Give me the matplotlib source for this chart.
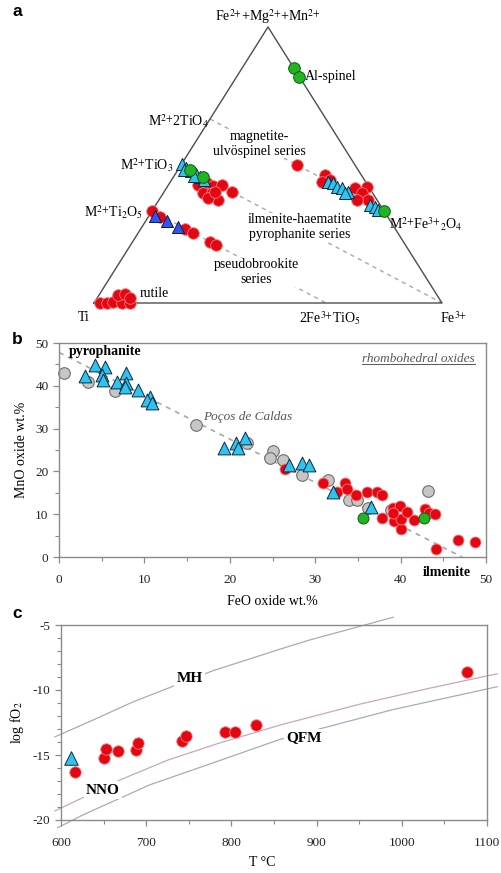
import numpy as np
import matplotlib
matplotlib.use('Agg')
import matplotlib.pyplot as plt
from matplotlib.lines import Line2D
from matplotlib.ticker import MultipleLocator

plt.rcParams['font.family'] = ['Liberation Serif', 'DejaVu Serif']
plt.rcParams['mathtext.fontset'] = 'stix'
plt.rcParams['axes.unicode_minus'] = False

# ====================== a: Ti - M2+ - Fe3+ (molar fractions, Ti = 1 - M2 - Fe3) ======================
a_red_m2 = [0.428, 0.435, 0.424, 0.428, 0.402, 0.399, 0.399, 0.373, 0.380, 0.402,
            0.500,
            0.464, 0.446, 0.438, 0.417, 0.420, 0.399, 0.373, 0.373,
            0.333, 0.312, 0.268, 0.254, 0.221, 0.210,
            0.0, 0.0, 0.004, 0.0, 0.0, 0.029, 0.033, 0.018]
a_red_fe3 = [0.085, 0.107, 0.130, 0.154, 0.196, 0.114, 0.140, 0.170, 0.138, 0.147,
             0.333,
             0.432, 0.455, 0.436, 0.542, 0.574, 0.571, 0.601, 0.569,
             0.0, 0.034, 0.127, 0.157, 0.223, 0.246,
             0.017, 0.037, 0.053, 0.080, 0.103, 0.055, 0.073, 0.094]
a_cyan_m2 = [0.504, 0.489, 0.478, 0.467, 0.457, 0.446, 0.482, 0.460,
             0.438, 0.435, 0.420, 0.417, 0.402, 0.399, 0.355, 0.348, 0.337]
a_cyan_fe3 = [0.0, 0.020, 0.040, 0.060, 0.076, 0.093, 0.018, 0.057,
              0.453, 0.469, 0.488, 0.504, 0.529, 0.522, 0.616, 0.633, 0.648]
a_blue_m2 = [0.315, 0.297, 0.275]
a_blue_fe3 = [0.018, 0.061, 0.104]
a_green_m2 = [0.85, 0.82, 0.482, 0.457, 0.335]
a_green_fe3 = [0.15, 0.18, 0.035, 0.085, 0.665]
# end members of the series (m2, fe3)
series_ends = [((2/3, 0.0), (1/3, 2/3)),   # magnetite-ulvospinel
               ((0.5, 0.0), (0.0, 1.0)),   # ilmenite-haematite
               ((1/3, 0.0), (0.0, 2/3))]   # pseudobrookite

# ====================== b: FeO vs MnO ======================
b_gray_feo = [0.6, 3.4, 6.6, 16.1, 22.0, 25.1, 24.7, 26.2, 28.4, 31.5, 33.9, 34.9, 36.2, 38.9, 43.2]
b_gray_mno = [42.9, 41.0, 38.8, 30.8, 26.6, 24.8, 23.2, 22.7, 19.2, 18.0, 13.3, 13.3, 11.4, 11.0, 15.5]
b_cyan_feo = [4.2, 5.4, 3.1, 5.0, 5.2, 7.9, 6.8, 7.9, 7.7, 9.2, 10.7, 10.3, 10.9,
              19.3, 20.7, 21.8, 21.0, 26.9, 28.4, 29.3, 32.1, 36.5]
b_cyan_mno = [44.9, 44.3, 42.3, 42.5, 41.4, 42.9, 41.0, 40.6, 39.8, 39.0, 37.5, 36.7, 35.9,
              25.4, 26.6, 27.7, 25.4, 21.5, 21.9, 21.5, 15.3, 11.6]
b_red_feo = [26.5, 30.9, 32.6, 33.5, 33.7, 34.8, 36.1, 37.2, 37.8, 37.8, 39.1, 39.9,
             39.2, 40.0, 40.1, 40.8, 41.6, 42.9, 43.3, 44.0, 44.1, 46.7, 48.7, 39.1]
b_red_mno = [20.5, 17.4, 15.3, 17.4, 15.8, 14.5, 15.3, 15.3, 14.5, 9.0, 11.4, 11.9,
             8.3, 6.5, 8.8, 10.4, 8.6, 11.2, 10.2, 10.0, 1.8, 4.0, 3.6, 10.2]
b_green_feo = [35.6, 42.7]
b_green_mno = [9.2, 9.0]
trend_feo = [0.0, 47.2]
trend_mno = [47.8, 0.0]

# ====================== c: T vs log fO2 ======================
c_red_t = [616, 650, 653, 667, 688, 690, 742, 747, 793, 804, 829, 1077]
c_red_fo2 = [-16.3, -15.25, -14.55, -14.7, -14.6, -14.05, -13.9, -13.5, -13.2, -13.2, -12.7, -8.6]
c_tri_t = [612]
c_tri_fo2 = [-15.2]
mh_t = [593, 638, 685, 732, 779, 822, 860, 892, 951, 990]
mh_fo2 = [-13.6, -12.3, -10.9, -9.7, -8.5, -7.6, -6.8, -6.15, -5.1, -4.4]
nno_t = [593, 625, 670, 725, 785, 857, 950, 1030, 1112]
nno_fo2 = [-19.3, -18.3, -16.9, -15.4, -14.1, -12.7, -11.1, -9.9, -8.75]
qfm_t = [596, 626, 704, 783, 857, 906, 990, 1112]
qfm_fo2 = [-20.6, -19.6, -17.3, -15.5, -13.8, -12.95, -11.5, -9.75]

RED = dict(c='#e30613', edgecolors='#ff7a7a', linewidths=0.6)
CYAN = dict(c='#2ec4f0', edgecolors='#0d2a40', linewidths=0.7)
BLUE = dict(c='#3355ee', edgecolors='#0a1a50', linewidths=0.7)
GREEN = dict(c='#22b422', edgecolors='#0b5e0b', linewidths=0.7)
GRAY = dict(c='#c6c6c6', edgecolors='#6e6e6e', linewidths=0.8)
SPINE = '#8a8a8a'
FS = 10
wbox = dict(facecolor='white', edgecolor='none', pad=0.5)
P2 = r'$^{2{+}}$'
P3 = r'$^{3{+}}$'


def tern(m2, fe3):
    m2 = np.asarray(m2, dtype=float)
    fe3 = np.asarray(fe3, dtype=float)
    return fe3 + m2 / 2, m2


fig = plt.figure(figsize=(5.01, 8.73), dpi=100)

# ---------------- a ----------------
ax = fig.add_axes([94/501, 1 - 303/873, 348/501, 276/873])
ax.set_xlim(0, 1)
ax.set_ylim(0, 1)
ax.axis('off')
for (p, q) in series_ends:
    x, y = tern([p[0], q[0]], [p[1], q[1]])
    ax.plot(x, y, color='#a8a8a8', lw=1, ls=(0, (3, 3)), clip_on=False)
x, y = tern([0, 0, 1, 0], [0, 1, 0, 0])
ax.plot(x, y, color='#4d4d4d', lw=1, clip_on=False)

ax.scatter(*tern(a_red_m2, a_red_fe3), s=70, clip_on=False, zorder=3, **RED)
ax.scatter(*tern(a_cyan_m2, a_cyan_fe3), s=75, marker='^', clip_on=False, zorder=4, **CYAN)
ax.scatter(*tern(a_blue_m2, a_blue_fe3), s=75, marker='^', clip_on=False, zorder=4, **BLUE)
ax.scatter(*tern(a_green_m2, a_green_fe3), s=70, clip_on=False, zorder=5, **GREEN)

ax.text(0.5, 1.036, 'Fe' + P2 + '+Mg' + P2 + '+Mn' + P2, fontsize=FS, ha='center', va='center')
ax.text(0.606, 0.822, 'Al-spinel', fontsize=FS, ha='left', va='center')
ax.text(0.330, 0.659, 'M' + P2 + r'2TiO$_4$', fontsize=FS, ha='right', va='center')
ax.text(0.474, 0.576, 'magnetite-\nulvöspinel series', fontsize=FS, ha='center', va='center',
        linespacing=1.15, bbox=wbox, zorder=2)
ax.text(0.227, 0.5, 'M' + P2 + r'TiO$_3$', fontsize=FS, ha='right', va='center')
ax.text(0.141, 0.33, 'M' + P2 + r'Ti$_2$O$_5$', fontsize=FS, ha='right', va='center')
ax.text(0.592, 0.275, 'ilmenite-haematite\npyrophanite series', fontsize=FS, ha='center',
        va='center', linespacing=1.15, bbox=wbox, zorder=2)
ax.text(0.466, 0.112, 'pseudobrookite\nseries', fontsize=FS, ha='center', va='center',
        linespacing=1.15, bbox=wbox, zorder=2)
ax.text(0.132, 0.036, 'rutile', fontsize=FS, ha='left', va='center')
ax.text(0.848, 0.286, 'M' + P2 + r'Fe$^{3{+}}{}_2$O$_4$', fontsize=FS, ha='left', va='center')
ax.text(-0.029, -0.054, 'Ti', fontsize=FS, ha='center', va='center')
ax.text(0.678, -0.054, '2Fe' + P3 + r'TiO$_5$', fontsize=FS, ha='center', va='center')
ax.text(1.032, -0.054, 'Fe' + P3, fontsize=FS, ha='center', va='center')


def style_axes(ax):
    for s in ax.spines.values():
        s.set_color(SPINE)
        s.set_linewidth(1)
    ax.tick_params(which='both', direction='out', colors=SPINE, labelcolor='#222222',
                   labelsize=9.5, top=False, right=False)
    ax.tick_params(which='major', length=4.5, width=0.9)
    ax.tick_params(which='minor', length=3, width=0.8)
    ax.tick_params(axis='x', which='both', pad=8)
    ax.tick_params(axis='y', which='both', pad=3)


# ---------------- b ----------------
ax = fig.add_axes([59/501, 1 - 557/873, 427/501, 214/873])
ax.set_xlim(0, 50)
ax.set_ylim(0, 50)
ax.xaxis.set_major_locator(MultipleLocator(10))
ax.xaxis.set_minor_locator(MultipleLocator(5))
ax.yaxis.set_major_locator(MultipleLocator(10))
ax.yaxis.set_minor_locator(MultipleLocator(5))
style_axes(ax)
ax.plot(trend_feo, trend_mno, color='#a8a8a8', lw=1.2, ls=(0, (3, 3)), zorder=1)
ax.scatter(b_gray_feo, b_gray_mno, s=70, clip_on=False, zorder=2, **GRAY)
ax.scatter(b_red_feo, b_red_mno, s=62, clip_on=False, zorder=3, **RED)
ax.scatter(b_cyan_feo, b_cyan_mno, s=85, marker='^', clip_on=False, zorder=4, **CYAN)
ax.scatter(b_green_feo, b_green_mno, s=62, clip_on=False, zorder=5, **GREEN)
ax.text(1.2, 47.9, 'pyrophanite', fontsize=FS, fontweight='bold', ha='left', va='center')
ax.text(16.9, 32.7, 'Poços de Caldas', fontsize=9.5, style='italic', color='#555555',
        ha='left', va='center')
ax.text(45.4, -3.6, 'ilmenite', fontsize=FS, fontweight='bold', ha='center', va='center',
        clip_on=False)
rh = ax.text(0.974, 0.925, 'rhombohedral oxides', fontsize=9.5, style='italic',
             color='#555555', ha='right', va='center', transform=ax.transAxes)
ax.set_xlabel('FeO oxide wt.%', fontsize=FS, va='center')
ax.xaxis.set_label_coords(0.5, -0.21)
ax.set_ylabel('MnO oxide wt.%', fontsize=FS, va='center')
ax.yaxis.set_label_coords(-0.087, 0.5)

# ---------------- c ----------------
ax = fig.add_axes([61/501, 1 - 820/873, 426/501, 195/873])
ax.set_xlim(600, 1100)
ax.set_ylim(-20, -5)
ax.xaxis.set_major_locator(MultipleLocator(100))
ax.xaxis.set_minor_locator(MultipleLocator(50))
ax.yaxis.set_major_locator(MultipleLocator(5))
ax.yaxis.set_minor_locator(MultipleLocator(1))
style_axes(ax)
ax.plot(mh_t, mh_fo2, color='#a6abba', lw=0.9, clip_on=False, zorder=1)
ax.plot(nno_t, nno_fo2, color='#c4a9bb', lw=0.9, clip_on=False, zorder=1)
ax.plot(qfm_t, qfm_fo2, color='#a6abba', lw=0.9, clip_on=False, zorder=1)
ax.text(751, -9.1, 'MH', fontsize=11, fontweight='bold', ha='center', va='center',
        bbox=dict(facecolor='white', edgecolor='none', pad=1.5), zorder=2)
ax.text(649, -17.7, 'NNO', fontsize=11, fontweight='bold', ha='center', va='center',
        bbox=dict(facecolor='white', edgecolor='none', pad=1.5), zorder=2)
ax.text(885, -13.7, 'QFM', fontsize=11, fontweight='bold', ha='center', va='center',
        bbox=dict(facecolor='white', edgecolor='none', pad=1.5), zorder=2)
ax.scatter(c_red_t, c_red_fo2, s=68, clip_on=False, zorder=3, **RED)
ax.scatter(c_tri_t, c_tri_fo2, s=95, marker='^', clip_on=False, zorder=4, **CYAN)
ax.set_xlabel('T °C', fontsize=FS, va='center')
ax.xaxis.set_label_coords(0.472, -0.22)
ax.set_ylabel(r'log fO$_2$', fontsize=FS, va='center')
ax.yaxis.set_label_coords(-0.103, 0.5)

# panel letters
for lab, yy in [('a', 12), ('b', 340), ('c', 614)]:
    fig.text(17/501, 1 - yy/873, lab, fontsize=12.5, fontweight='bold', family='Liberation Sans',
             ha='center', va='center')

# underline for "rhombohedral oxides"
fig.canvas.draw()
bb = rh.get_window_extent(fig.canvas.get_renderer())
W, H = fig.bbox.width, fig.bbox.height
fig.add_artist(Line2D([bb.x0 / W, bb.x1 / W], [(bb.y0 + 1) / H, (bb.y0 + 1) / H],
                      color='#555555', lw=0.7, transform=fig.transFigure))

fig.savefig('out.png', dpi=100)
